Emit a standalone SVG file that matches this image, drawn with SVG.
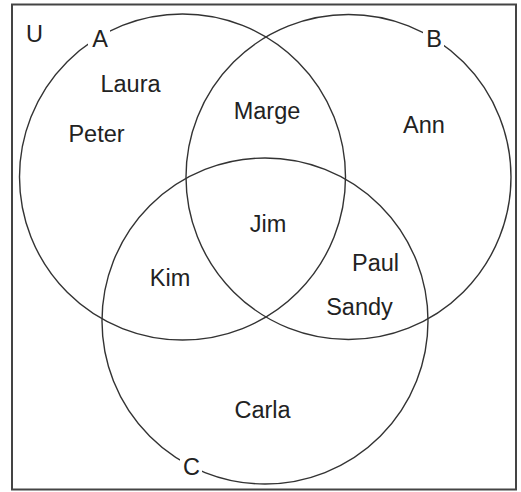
<svg xmlns="http://www.w3.org/2000/svg" width="521" height="492" viewBox="0 0 521 492">
<style>
.set{fill:none;stroke:#333;stroke-width:1.4}
.t{font-family:"Liberation Sans",Arial,sans-serif;font-size:23.5px;fill:#222;text-anchor:middle}
.bg{fill:#fff}
</style>
<rect width="521" height="492" fill="#fff"/>
<g id="universe">
<rect x="12" y="4.5" width="504" height="485" fill="none" stroke="#444" stroke-width="2"/>
<text class="t" x="34.5" y="42">U</text>
</g>
<g id="setA">
<circle class="set" cx="182.5" cy="177" r="163"/>
<rect class="bg" x="88" y="26" width="22" height="24"/>
<text class="t" x="100" y="47">A</text>
</g>
<g id="setB">
<circle class="set" cx="348.5" cy="177" r="162.5"/>
<rect class="bg" x="423" y="26" width="21" height="24"/>
<text class="t" x="434" y="47">B</text>
</g>
<g id="setC">
<circle class="set" cx="265" cy="321" r="163"/>
<rect class="bg" x="180" y="454" width="22" height="24"/>
<text class="t" x="191.5" y="475">C</text>
</g>
<g id="members">
<text class="t" x="130.5" y="92">Laura</text>
<text class="t" x="96.5" y="142">Peter</text>
<text class="t" x="267" y="119">Marge</text>
<text class="t" x="424" y="133">Ann</text>
<text class="t" x="268" y="232">Jim</text>
<text class="t" x="170" y="286">Kim</text>
<text class="t" x="375.5" y="271">Paul</text>
<text class="t" x="359.5" y="315">Sandy</text>
<text class="t" x="262.5" y="418">Carla</text>
</g>
</svg>
